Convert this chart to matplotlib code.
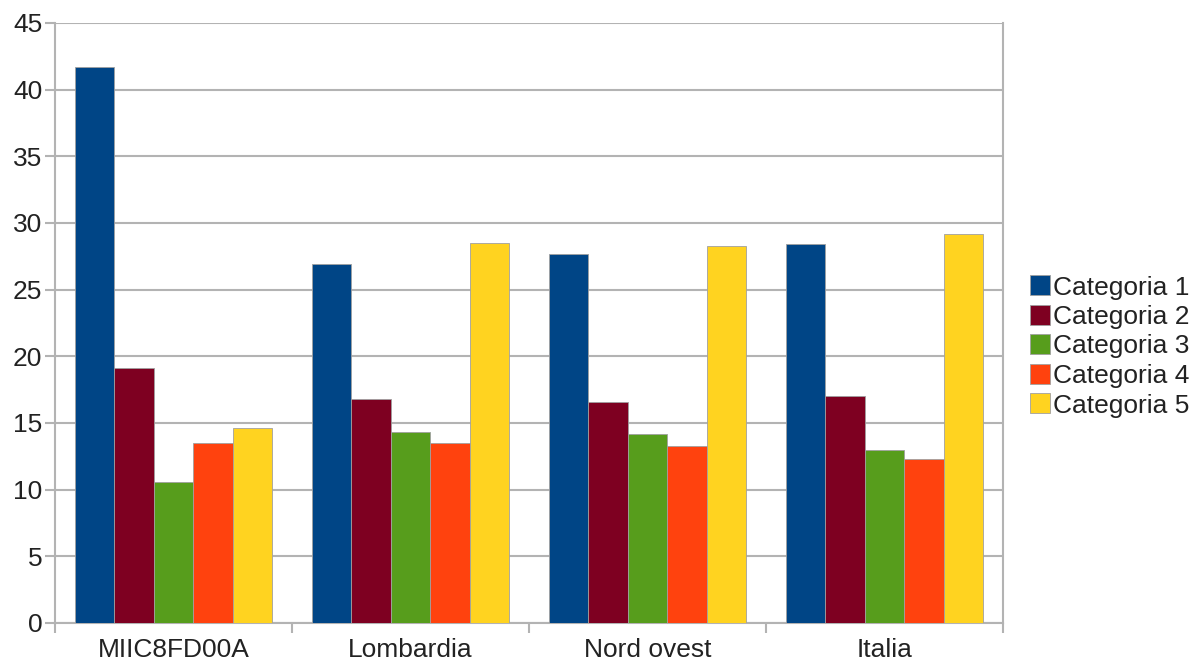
import numpy as np
import matplotlib
matplotlib.use("Agg")
import matplotlib.pyplot as plt
from matplotlib.patches import Rectangle

# ------------ data ------------
regions = ["MIIC8FD00A", "Lombardia", "Nord ovest", "Italia"]
series_names = ["Categoria 1", "Categoria 2", "Categoria 3", "Categoria 4", "Categoria 5"]
cat1 = [41.7, 26.9, 27.7, 28.4]
cat2 = [19.1, 16.8, 16.6, 17.0]
cat3 = [10.6, 14.3, 14.2, 13.0]
cat4 = [13.5, 13.5, 13.3, 12.3]
cat5 = [14.6, 28.5, 28.3, 29.2]
colors = ["#004586", "#7e0021", "#579d1c", "#ff420e", "#ffd320"]

plt.rcParams["font.family"] = ["Liberation Sans", "DejaVu Sans"]

W, H = 1194, 665
fig = plt.figure(figsize=(W / 100, H / 100), dpi=100)
ax = fig.add_axes([55 / W, 1 - 623 / H, (1003 - 55) / W, (623 - 23) / H])

x = np.arange(len(regions))
n = len(series_names)
group_w = 0.83
w = group_w / n
for i, vals in enumerate([cat1, cat2, cat3, cat4, cat5]):
    ax.bar(x - group_w / 2 + w * (i + 0.5), vals, width=w, color=colors[i],
           edgecolor="#a0a0a0", linewidth=0.6, label=series_names[i], zorder=3)

ax.set_xlim(-0.5, len(regions) - 0.5)
ax.set_ylim(0, 45)
ax.set_yticks(range(0, 46, 5))
ax.set_xticks(x)
ax.set_xticklabels(regions)
ax.set_xticks(np.arange(-0.5, len(regions), 1), minor=True)
ax.tick_params(axis="x", which="major", length=0, labelsize=19, colors="#222222", pad=11)
ax.tick_params(axis="x", which="minor", length=7.2, width=1.5, color="#b3b3b3")
ax.tick_params(axis="y", length=7.2, width=1.5, color="#b3b3b3", labelsize=19,
               labelcolor="#222222", pad=2)
ax.yaxis.grid(True, color="#b3b3b3", linewidth=1.5, zorder=0)
for side in ["left", "bottom", "right"]:
    ax.spines[side].set_color("#b3b3b3")
    ax.spines[side].set_linewidth(1.5)
ax.spines["top"].set_visible(False)

# ------------ legend ------------
row0, step = 285, 29.5
for i, name in enumerate(series_names):
    yc = row0 + i * step
    fig.patches.append(Rectangle((1030 / W, 1 - (yc + 10) / H), 20 / W, 20 / H,
                                 transform=fig.transFigure, facecolor=colors[i],
                                 edgecolor="#a0a0a0", linewidth=0.6))
    fig.text(1053 / W, 1 - yc / H, name, fontsize=19, color="#222222",
             va="center_baseline", ha="left")

fig.savefig("out.png", dpi=100)
